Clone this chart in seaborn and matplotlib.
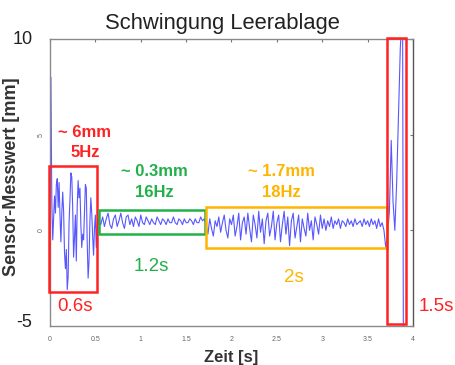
import numpy as np
import matplotlib
import matplotlib.pyplot as plt
import matplotlib.transforms as mtransforms
from matplotlib.patches import Rectangle
import seaborn as sns

matplotlib.use('Agg')

# signal, one list per phase
seg1_t = (0.00, 0.55)
seg1_v = [0.0, 8.0, 1.5, -0.5, 0.6, 1.8, 0.9, 2.4, 2.7, 1.2, 2.5, 0.8, -0.6, 0.9,
          2.0, 1.0, -1.2, -2.0, -1.0, -3.1, -2.4, 0.4, 1.6, 3.0, 2.8, 1.2, -1.4,
          -0.4, 0.8, -1.6, 1.3, 2.6, 1.7, 2.2, 0.3, -0.9, -0.2, -0.5, 1.0, 2.4,
          2.2, -0.6, -2.5, -1.6, 0.5, 1.7, 0.9, -0.3, -1.3, 0.1, 0.8, -0.9, 0.2,
          0.6, 0.3, 0.4]

seg2_t = (0.56, 1.70)
seg2_v = [0.3, 0.7, 0.2, 0.6, 0.9, 0.3, 0.1, 0.6, 0.8, 0.2, 0.5, 0.9, 0.4, 0.1,
          0.7, 0.8, 0.3, 0.6, 0.2, 0.7, 0.5, 0.2, 0.8, 0.4, 0.3, 0.7, 0.5, 0.3,
          0.6, 0.4, 0.3, 0.7, 0.5, 0.3, 0.6, 0.5, 0.3, 0.6, 0.4, 0.4, 0.7, 0.4,
          0.3, 0.6, 0.5, 0.3, 0.6, 0.4, 0.4, 0.6, 0.5, 0.3, 0.6, 0.4, 0.4, 0.7,
          0.5, 0.6]

seg3_t = (1.72, 3.70)
seg3_v = [0.3, -0.2, 0.6, 0.1, -0.3, 0.5, 0.2, 0.7, -0.1, 0.4, 0.8, 0.0, -0.4, 0.6, 0.3,
          0.8, -0.3, 0.2, 0.9, -0.5, 0.4, 0.7, -0.2, 0.9, 0.1, -0.6, 0.8, 0.3, -0.4,
          1.0, -0.1, 0.6, -0.7, 0.5, 0.9, -0.3, 0.2, 1.0, -0.5, 0.4,
          0.8, -0.6, 0.3, 1.0, -0.2, 0.7, -0.8, 0.5, 0.9, -0.4, 0.2, 0.8, -0.6, 0.6,
          0.1, -0.3, 0.9, 0.0, 0.5, -0.5, 0.7, 0.3, -0.2, 0.8, 0.1,
          0.6, 0.0, 0.5, 0.2, 0.7, 0.1, 0.5, 0.3, 0.6, 0.1, 0.5, 0.4, 0.2, 0.6, 0.3,
          0.5, 0.2, 0.6, 0.3, 0.4, 0.5, 0.2, 0.6, 0.3, 0.5,
          0.2, 0.6, 0.3, 0.5, 0.1, 0.6, 0.2, 0.4, 0.0, -0.9]

seg4_t = [3.72, 3.74, 3.76, 3.78, 3.80, 3.82, 3.84, 3.86, 3.885, 3.895]
seg4_v = [-0.2, 1.0, 4.7, 1.5, 0.0, 2.5, 6.0, 9.5, 12.0, -8.0]

# boxes around the phases: (t0, t1, v0, v1, colour)
boxes = [
    (-0.01, 0.515, -3.24, 3.36, '#ff2222'),
    (0.54, 1.71, -0.21, 1.06, '#22b04b'),
    (1.72, 3.71, -0.90, 1.24, '#ffb400'),
    (3.71, 3.92, -4.91, 10.07, '#ff2222'),
]

t = np.concatenate([
    np.linspace(*seg1_t, len(seg1_v)),
    np.linspace(*seg2_t, len(seg2_v)),
    np.linspace(*seg3_t, len(seg3_v)),
    np.array(seg4_t),
])
v = np.concatenate([seg1_v, seg2_v, seg3_v, seg4_v])

sns.set_style('white')
plt.rcParams['font.family'] = ['Liberation Sans', 'DejaVu Sans']

fig = plt.figure(figsize=(4.56, 3.65), dpi=100)
ax = fig.add_axes([50 / 456, 1 - 326 / 365, 363 / 456, 287 / 365])

sns.lineplot(x=t, y=v, ax=ax, estimator=None, sort=False,
             color='#3a3aff', linewidth=0.8, alpha=0.85)

ax.set_xlim(0, 4)
ax.set_ylim(-5, 10)

for spine in ax.spines.values():
    spine.set_color('#8a8a8a')
    spine.set_linewidth(1.0)
ax.spines['right'].set_color('#555555')

ax.set_xticks([0, 0.5, 1, 1.5, 2, 2.5, 3, 3.5, 4],
              labels=['0', '0.5', '1', '1.5', '2', '2.5', '3', '3.5', '4'])
ax.set_yticks([-5, 0, 5, 10], labels=['', '0', '5', ''])
ax.tick_params(direction='in', length=2.5, width=0.8, color='#777777',
               top=True, right=True, labelsize=5, labelcolor='#666666')
ax.tick_params(axis='x', pad=7)
ax.tick_params(axis='y', pad=4)
for lbl in ax.get_yticklabels():
    lbl.set_rotation(90)
    lbl.set_va('center')

# large y labels at the ends
yt = mtransforms.blended_transform_factory(ax.transAxes, ax.transData)
ax.text(-0.048, 10, '10', transform=yt, ha='right', va='center', fontsize=13, color='#222222')
ax.text(-0.048, -4.8, '-5', transform=yt, ha='right', va='center', fontsize=13, color='#222222')

ax.set_title('Schwingung Leerablage', fontsize=15.8, color='#222222', pad=7, x=0.475)
ax.set_ylabel('Sensor-Messwert [mm]', fontsize=13, fontweight='bold', color='#333333')
ax.yaxis.set_label_coords(-0.083, 0.52)
ax.set_xlabel('Zeit [s]', fontsize=12, fontweight='bold', color='#333333')
ax.xaxis.set_label_coords(0.50, -0.085)

for t0, t1, v0, v1, c in boxes:
    ax.add_patch(Rectangle((t0, v0), t1 - t0, v1 - v0, fill=False,
                           edgecolor=c, linewidth=1.8, clip_on=False, zorder=3))

red, green, orange = '#ff2222', '#22b04b', '#ffb400'
ax.text(0.385, 5.1, '~ 6mm', color=red, fontsize=12, fontweight='bold', ha='center', va='center')
ax.text(0.385, 4.08, '5Hz', color=red, fontsize=12, fontweight='bold', ha='center', va='center')
ax.text(0.275, -3.97, '0.6s', color=red, fontsize=13.5, ha='center', va='center')
ax.text(1.146, 3.08, '~ 0.3mm', color=green, fontsize=12, fontweight='bold', ha='center', va='center')
ax.text(1.146, 1.99, '16Hz', color=green, fontsize=12, fontweight='bold', ha='center', va='center')
ax.text(1.12, -1.9, '1.2s', color=green, fontsize=13.5, ha='center', va='center')
ax.text(2.545, 3.08, '~ 1.7mm', color=orange, fontsize=12, fontweight='bold', ha='center', va='center')
ax.text(2.555, 1.99, '18Hz', color=orange, fontsize=12, fontweight='bold', ha='center', va='center')
ax.text(2.69, -2.46, '2s', color=orange, fontsize=13.5, ha='center', va='center')
ax.text(4.26, -3.97, '1.5s', color=red, fontsize=13.5, ha='center', va='center', clip_on=False)

fig.savefig('out.png', dpi=100)
